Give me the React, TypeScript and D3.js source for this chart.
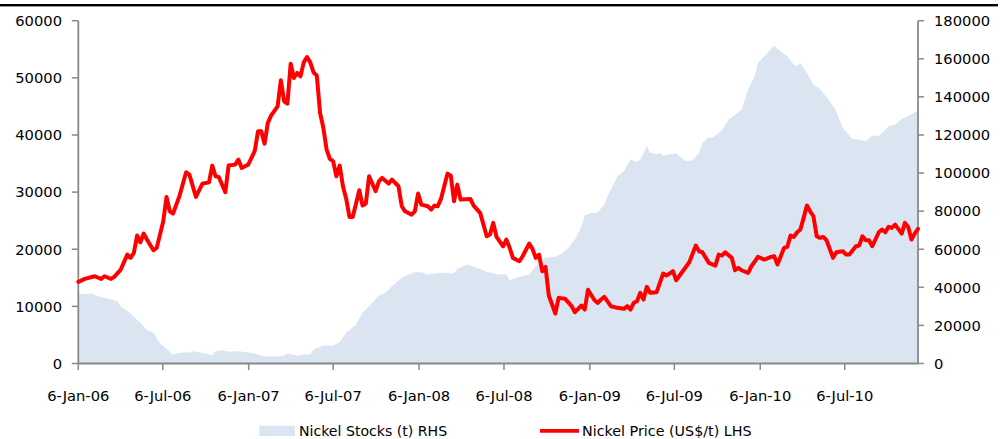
import React from 'react';
import * as d3 from 'd3';

// Weekly observations (Fridays), indexed by weeks since 6-Jan-2006
const priceWeeks = [
  0, 2, 5, 7, 8, 10, 11, 13, 15, 16, 17, 18, 19, 20, 21, 23, 24, 26, 27, 28, 29, 31, 33, 34, 36, 38, 40, 41, 42, 43,
  45, 46, 48, 49, 50, 51, 52, 53, 54, 55, 56, 57, 58, 59, 61, 62, 63, 64, 65, 66, 67, 68, 69, 70, 71, 72, 73, 74, 75,
  76, 77, 78, 79, 80, 81, 82, 83, 84, 86, 87, 88, 89, 91, 92, 93, 95, 96, 98, 99, 100, 102, 103, 104, 105, 107, 108,
  109, 110, 111, 113, 114, 115, 116, 117, 120, 121, 123, 125, 126, 127, 128, 130, 131, 132, 133, 135, 136, 138, 139,
  140, 141, 142, 143, 144, 145, 146, 147, 149, 151, 152, 154, 155, 156, 158, 159, 160, 161, 163, 165, 167, 168, 169,
  170, 171, 172, 173, 174, 175, 177, 178, 179, 180, 182, 183, 185, 187, 189, 190, 191, 193, 195, 196, 197, 198, 200,
  201, 202, 203, 205, 206, 207, 208, 210, 212, 213, 214, 215, 216, 217, 218, 219, 220, 221, 222, 223, 224, 225, 226,
  227, 228, 229, 231, 232, 234, 235, 236, 238, 239, 240, 241, 242, 243, 245, 246, 247, 248, 249, 250, 252, 253, 254,
  255, 256, 257,
];
const priceValues = [
  14300, 14800, 15270, 14800, 15270, 14800, 15170, 16440, 19070, 18500, 19360, 22390, 21220, 22740, 21690, 19820,
  20240, 24890, 29160, 26640, 26240, 29390, 33470, 33060, 29160, 31490, 31720, 34640, 32770, 32650, 29970, 34640,
  34810, 35690, 34230, 34520, 34810, 36000, 37200, 40640, 40640, 38480, 42100, 43380, 45010, 49560, 45890, 45480,
  52480, 49970, 50850, 50260, 52710, 53650, 52710, 50960, 50380, 43850, 41230, 37430, 35800, 35390, 32770, 34640,
  31020, 28810, 25660, 25660, 30320, 27640, 27990, 32770, 30150, 31890, 32480, 31490, 32190, 31020, 27520, 26640,
  26060, 26640, 29740, 27810, 27520, 26940, 27640, 27520, 28810, 33240, 32890, 28390, 31310, 28690, 28810, 27640,
  26360, 22270, 22570, 24610, 22150, 20520, 21690, 20300, 18490, 17900, 18770, 20990, 20060, 18490, 19070, 16150,
  16910, 11900, 10320, 8750, 11490, 11320, 10030, 8980, 10150, 9450, 12900, 11080, 10620, 11200, 11660, 10030, 9740,
  9570, 10030, 9450, 10620, 10900, 12370, 11200, 13420, 12370, 12480, 14120, 15740, 15390, 16150, 14570, 16150,
  17720, 20640, 19650, 19470, 17610, 17140, 19070, 18890, 19470, 18490, 16320, 16740, 16320, 15870, 17020, 17800,
  18660, 18190, 18660, 18770, 17320, 18770, 20240, 20410, 22390, 22150, 22970, 23440, 25490, 27640, 26640, 25770,
  22270, 21990, 22150, 21570, 18490, 19470, 19650, 19070, 19070, 20520, 20640, 22270, 21570, 21570, 20520, 22970,
  23440, 22970, 23910, 23740, 24320, 22740, 24610, 23910, 21690, 22740, 23560,
];

const stockWeeks = [
  0, 4, 6, 9, 12, 13, 16, 19, 21, 23, 25, 27, 29, 31, 33, 34, 35, 38, 41, 42, 44, 46, 49, 52, 55, 57, 59, 61, 63, 64,
  67, 69, 71, 72, 75, 78, 80, 82, 85, 87, 90, 92, 94, 96, 99, 101, 103, 105, 107, 111, 115, 116, 119, 122, 125, 128,
  131, 132, 134, 138, 140, 142, 143, 146, 148, 150, 152, 154, 155, 157, 159, 161, 162, 165, 167, 169, 171, 172, 174,
  175, 177, 178, 179, 181, 183, 184, 186, 188, 190, 191, 193, 194, 196, 197, 199, 201, 203, 205, 207, 208, 210, 212,
  213, 215, 217, 219, 220, 221, 223, 225, 227, 230, 232, 234, 237, 239, 241, 243, 245, 247, 248, 250, 252, 254, 256,
  257,
];
const stockValues = [
  36210, 36740, 35320, 34110, 32690, 30070, 26240, 21360, 17480, 16110, 10500, 7710, 4720, 5620, 5930, 5620, 6460,
  5620, 4360, 6460, 6980, 6140, 6460, 5930, 4720, 3500, 3830, 3500, 4200, 5250, 4200, 4720, 4720, 7350, 9450, 9450,
  11200, 16110, 20470, 26610, 31860, 35690, 37100, 40570, 44970, 46710, 47910, 47910, 46710, 47600, 47230, 49700,
  51960, 50220, 48120, 46860, 46710, 43720, 44970, 46710, 51060, 54580, 55470, 56000, 57730, 60720, 65080, 72050,
  77670, 79080, 79400, 83440, 87800, 98290, 100920, 107060, 105640, 107060, 114040, 110570, 110040, 110570, 109160,
  109680, 110210, 108790, 106170, 106690, 110570, 115820, 118970, 118440, 121060, 122430, 128050, 130680, 133300,
  143800, 150770, 157800, 161300, 165150, 166900, 163880, 161300, 157000, 156200, 157800, 152550, 146420, 144150,
  137650, 132400, 123690, 117910, 117550, 116660, 119650, 119650, 122800, 124520, 125420, 128390, 129800, 131880,
  132400,
];

const leftTicks = [0, 10000, 20000, 30000, 40000, 50000, 60000];
const rightTicks = [0, 20000, 40000, 60000, 80000, 100000, 120000, 140000, 160000, 180000];
const dateTicks = [
  '2006-01-06', '2006-07-06', '2007-01-06', '2007-07-06', '2008-01-06',
  '2008-07-06', '2009-01-06', '2009-07-06', '2010-01-06', '2010-07-06',
];

const seriesLabels = ['Nickel Stocks (t) RHS', 'Nickel Price (US$/t) LHS'];

const weekToDate = (w: number) => new Date(2006, 0, 6 + 7 * w);
const parseDay = (s: string) => {
  const [y, m, d] = s.split('-').map(Number);
  return new Date(y, m - 1, d);
};

const W = 1005;
const H = 439;
const left = 78.3;
const right = 918;
const top = 20.7;
const bottom = 363.5;

const FONT = '"DejaVu Sans", sans-serif';
const AXIS = '#898989';

export default function App() {
  const x = d3
    .scaleTime()
    .domain([weekToDate(0), weekToDate(257)])
    .range([left, right]);
  const yL = d3.scaleLinear().domain([0, 60000]).range([bottom, top]);
  const yR = d3.scaleLinear().domain([0, 180000]).range([bottom, top]);
  const fmt = d3.timeFormat('%-d-%b-%y');

  const price = priceWeeks.map((w, i) => ({ d: weekToDate(w), v: priceValues[i] }));
  const stocks = stockWeeks.map((w, i) => ({ d: weekToDate(w), v: stockValues[i] }));

  const areaPath =
    d3
      .area<{ d: Date; v: number }>()
      .x((p) => x(p.d))
      .y0(yR(0))
      .y1((p) => yR(p.v))(stocks) || '';
  const linePath =
    d3
      .line<{ d: Date; v: number }>()
      .x((p) => x(p.d))
      .y((p) => yL(p.v))(price) || '';

  return (
    <svg
      width={W}
      height={H}
      style={{ position: 'absolute', left: 0, top: 0, background: '#fff' }}
      fontFamily={FONT}
    >
      <rect x={0} y={0} width={W} height={H} fill="#fff" />
      <rect x={0} y={4} width={998} height={2.4} fill="#000" />

      <path d={areaPath} fill="#dbe5f1" />

      {/* left axis */}
      <line x1={left} x2={left} y1={top} y2={bottom} stroke={AXIS} strokeWidth={1.8} />
      {leftTicks.map((t) => (
        <g key={'l' + t}>
          <line x1={left - 6.5} x2={left} y1={yL(t)} y2={yL(t)} stroke={AXIS} strokeWidth={1.5} />
          <text x={62} y={yL(t)} dy="0.36em" textAnchor="end" fontSize={14.7} fill="#000">
            {t}
          </text>
        </g>
      ))}

      {/* right axis */}
      <line x1={right} x2={right} y1={top} y2={bottom} stroke={AXIS} strokeWidth={1.8} />
      {rightTicks.map((t) => (
        <g key={'r' + t}>
          <line x1={right} x2={right + 6} y1={yR(t)} y2={yR(t)} stroke={AXIS} strokeWidth={1.5} />
          <text x={934} y={yR(t)} dy="0.36em" textAnchor="start" fontSize={14.7} fill="#000">
            {t}
          </text>
        </g>
      ))}

      {/* date axis */}
      <line x1={left} x2={right} y1={bottom} y2={bottom} stroke={AXIS} strokeWidth={2} />
      {dateTicks.map((s) => {
        const px = x(parseDay(s));
        return (
          <g key={s}>
            <line x1={px} x2={px} y1={bottom} y2={bottom + 6.5} stroke={AXIS} strokeWidth={1.5} />
            <text x={px} y={400.5} textAnchor="middle" fontSize={14.7} fill="#000">
              {fmt(parseDay(s))}
            </text>
          </g>
        );
      })}

      <path d={linePath} fill="none" stroke="#ff0000" strokeWidth={4} strokeLinejoin="round" strokeLinecap="round" />

      {/* legend */}
      <rect x={259.3} y={425.7} width={35.7} height={10.3} fill="#dbe5f1" />
      <text x={299} y={436} fontSize={14.1} fill="#000">
        {seriesLabels[0]}
      </text>
      <line x1={540} x2={579} y1={430.8} y2={430.8} stroke="#ff0000" strokeWidth={3.8} />
      <text x={582} y={436} fontSize={14.3} fill="#000">
        {seriesLabels[1]}
      </text>
    </svg>
  );
}
